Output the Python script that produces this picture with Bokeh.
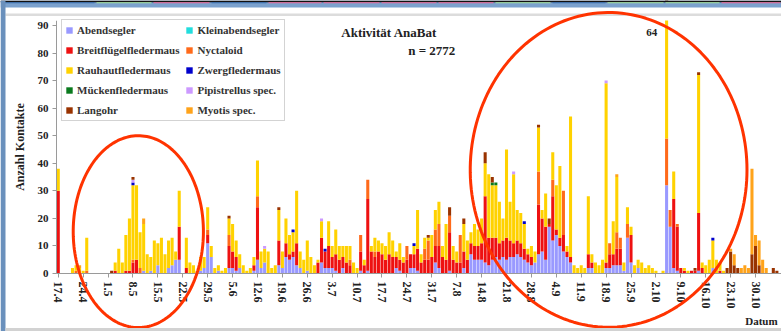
import numpy as np
from bokeh.plotting import figure
from bokeh.models import (ColumnDataSource, Range1d, FixedTicker, Legend, LegendItem,
                          Label, PolyAnnotation, BoxAnnotation)
from bokeh.embed import file_html
from bokeh.resources import INLINE

# ---------------------------------------------------------------- data
# one bar per night, starting 17.4 (day 0) through 5.11 (day 202)
N_DAYS = 203

tick_days = list(range(0, 197, 7))
tick_labels = ["17.4", "24.4", "1.5", "8.5", "15.5", "22.5", "29.5", "5.6", "12.6",
               "19.6", "26.6", "3.7", "10.7", "17.7", "24.7", "31.7", "7.8", "14.8",
               "21.8", "28.8", "4.9", "11.9", "18.9", "25.9", "2.10", "9.10", "16.10",
               "23.10", "30.10"]

abendsegler = [
    0, 0, 0, 0, 0, 0, 0, 0, 0, 0,
    0, 0, 0, 0, 0, 0, 0, 0, 0, 0,
    0, 0, 0, 0, 1, 0, 1, 0, 3, 0,
    0, 2, 3, 5, 5, 0, 0, 0, 0, 0,
    1, 2, 11, 6, 0, 1, 0, 0, 2, 2,
    1, 2, 0, 0, 0, 1, 5, 2, 4, 0,
    0, 0, 3, 2, 6, 5, 6, 3, 2, 0,
    1, 0, 0, 0, 4, 2, 2, 2, 1, 0,
    2, 0, 0, 0, 0, 1, 0, 1, 0, 0,
    0, 0, 0, 0, 0, 2, 1, 0, 0, 2,
    2, 1, 0, 0, 0, 0, 4, 2, 0, 0,
    1, 0, 0, 0, 2, 0, 7, 5, 5, 5,
    4, 3, 5, 6, 5, 6, 5, 6, 6, 7,
    6, 5, 4, 3, 4, 7, 8, 5, 17, 12,
    14, 10, 8, 6, 4, 0, 0, 0, 0, 2,
    2, 0, 0, 0, 2, 2, 3, 3, 3, 1,
    13, 4, 0, 2, 0, 0, 0, 0, 0, 0,
    0, 32, 17, 2, 1, 0, 0, 0, 0, 0,
    1, 0, 0, 0, 2, 0, 0, 0, 0, 0,
    0, 0, 0, 0, 0, 0, 0, 0, 0, 0,
    0, 0, 0,
]

breitfluegelfledermaus = [
    30, 0, 0, 0, 0, 0, 0, 0, 0, 0,
    0, 0, 0, 0, 0, 0, 1, 0, 0, 1,
    1, 4, 5, 0, 0, 0, 0, 0, 0, 0,
    0, 0, 0, 0, 12, 0, 2, 0, 0, 0,
    0, 0, 3, 0, 0, 0, 0, 0, 8, 6,
    5, 0, 0, 0, 0, 2, 19, 0, 0, 0,
    0, 0, 9, 0, 5, 2, 2, 8, 0, 0,
    0, 0, 0, 4, 9, 6, 8, 4, 6, 5,
    4, 4, 3, 0, 0, 7, 3, 26, 8, 6,
    8, 7, 5, 7, 6, 4, 4, 4, 5, 5,
    5, 8, 4, 5, 5, 6, 6, 8, 6, 5,
    14, 5, 4, 4, 6, 5, 4, 5, 5, 6,
    24, 10, 8, 7, 6, 6, 8, 6, 5, 5,
    5, 4, 3, 3, 0, 18, 12, 12, 1, 16,
    2, 3, 6, 2, 2, 0, 0, 0, 0, 5,
    2, 0, 0, 0, 2, 5, 4, 6, 6, 0,
    0, 10, 0, 0, 0, 0, 0, 0, 0, 0,
    0, 0, 0, 25, 16, 2, 1, 0, 1, 1,
    21, 2, 0, 0, 0, 0, 1, 0, 0, 0,
    0, 0, 0, 0, 0, 0, 0, 0, 0, 0,
    0, 0, 0,
]

rauhautfledermaus = [
    8, 0, 0, 0, 2, 2, 2, 1, 12, 0,
    0, 0, 0, 0, 0, 0, 3, 9, 4, 13,
    19, 27, 27, 13, 17, 7, 5, 12, 8, 13,
    7, 10, 10, 3, 13, 0, 11, 4, 3, 1,
    5, 4, 8, 4, 2, 2, 1, 2, 6, 10,
    6, 5, 3, 1, 2, 3, 13, 6, 5, 8,
    2, 3, 11, 6, 9, 7, 7, 19, 6, 5,
    11, 6, 3, 1, 6, 0, 9, 4, 9, 5,
    4, 6, 5, 4, 2, 0, 2, 0, 2, 5,
    4, 4, 5, 8, 6, 2, 6, 2, 0, 0,
    3, 14, 3, 4, 1, 8, 7, 8, 4, 13,
    0, 5, 4, 0, 10, 7, 4, 8, 6, 9,
    12, 23, 19, 19, 15, 8, 32, 14, 25, 11,
    11, 9, 2, 4, 4, 16, 3, 12, 0, 10,
    16, 26, 0, 2, 51, 3, 2, 3, 2, 21,
    3, 4, 3, 5, 65, 0, 12, 20, 0, 3,
    6, 3, 3, 3, 4, 2, 3, 2, 1, 0,
    1, 64, 0, 10, 0, 0, 1, 1, 0, 0,
    50, 2, 3, 5, 10, 5, 3, 1, 0, 0,
    0, 0, 0, 0, 0, 0, 0, 0, 0, 0,
    0, 0, 0,
]

# rarer species: nights with contacts and their counts
nyctaloid_days = [5, 8, 21, 23, 42, 48, 56, 82, 85, 87, 89, 98, 103, 104, 106, 107,
                  110, 113, 135, 139, 142, 155, 157, 158, 160, 171, 172, 174]
nyctaloid_counts = [1, 1, 1, 2, 2, 4, 4, 2, 6, 7, 2, 5, 4, 7, 6, 8,
                    6, 10, 12, 6, 16, 4, 6, 4, 5, 17, 6, 1]

langohr_days = [15, 21, 48, 62, 104, 110, 114, 120, 122, 135, 138, 179, 180, 188,
                189, 190, 191, 195, 196, 197, 201, 202]
langohr_counts = [1, 1, 1, 1, 1, 3, 2, 4, 2, 1, 2, 1, 1, 2,
                  8, 3, 2, 7, 10, 3, 2, 1]

myotis_days = [6, 24, 157, 189, 190, 192, 193, 194, 195, 196, 197, 198, 199]
myotis_counts = [1, 2, 1, 1, 4, 2, 3, 2, 31, 4, 9, 5, 2]

zwerg_days = [21, 66, 75, 100, 131, 184]
zwerg_counts = [1, 1, 1, 1, 1, 1]

muecken_days = [122, 123]
muecken_counts = [1, 1]

pipistrellus_days = [21, 58, 74, 128, 154]
pipistrellus_counts = [1, 1, 1, 1, 1]

kleinabendsegler_days = []
kleinabendsegler_counts = []

total_contacts = 2772
peak_day = 171  # 5.10, the bar that runs off the top of the axis
y_axis_top = 91.8


def nightly(days, counts):
    arr = [0] * N_DAYS
    for d, c in zip(days, counts):
        arr[d] += c
    return arr


species = [
    ("Abendsegler", abendsegler, "#9999FF"),
    ("Kleinabendsegler", nightly(kleinabendsegler_days, kleinabendsegler_counts), "#22DDDD"),
    ("Breitflügelfledermaus", breitfluegelfledermaus, "#EE1111"),
    ("Nyctaloid", nightly(nyctaloid_days, nyctaloid_counts), "#FF6A1A"),
    ("Rauhautfledermaus", rauhautfledermaus, "#FFD200"),
    ("Zwergfledermaus", nightly(zwerg_days, zwerg_counts), "#0000CC"),
    ("Mückenfledermaus", nightly(muecken_days, muecken_counts), "#0A7A1E"),
    ("Pipistrellus spec.", nightly(pipistrellus_days, pipistrellus_counts), "#CC99FF"),
    ("Langohr", nightly(langohr_days, langohr_counts), "#993300"),
    ("Myotis spec.", nightly(myotis_days, myotis_counts), "#FFA31A"),
]

keys = ["s%d" % i for i in range(len(species))]
data = {"day": list(range(N_DAYS))}
for k, (_, vals, _) in zip(keys, species):
    data[k] = vals
source = ColumnDataSource(data)

# ---------------------------------------------------------------- figure
SERIF = "Liberation Serif"

# the frame fills the whole page; the axes are pinned inside it so the
# highlight rings and the slide frame can run over the tick labels
p = figure(width=781, height=331, output_backend="svg", toolbar_location=None,
           x_range=Range1d(-16.24, 203.3), y_range=Range1d(-21.04, 99.06),
           min_border=0, min_border_left=0, min_border_right=0, min_border_top=0,
           min_border_bottom=0, background_fill_color="white",
           border_fill_color="white")
p.outline_line_color = None
p.xgrid.visible = False
p.ygrid.visible = False

renderers = p.vbar_stack(keys, x="day", width=0.86, source=source,
                         color=[c for _, _, c in species], line_color=None)

# axes
p.xaxis.fixed_location = 0
p.xaxis.bounds = (-0.5, 203.3)
p.xaxis.ticker = FixedTicker(ticks=tick_days)
p.xaxis.major_label_overrides = {d: t for d, t in zip(tick_days, tick_labels)}
p.xaxis.major_label_orientation = "vertical"
p.xaxis.minor_tick_line_color = None
p.xaxis.major_tick_out = 4
p.xaxis.major_tick_in = 0
p.xaxis.major_label_standoff = 4

p.yaxis.fixed_location = -0.5
p.yaxis.bounds = (0, y_axis_top)
p.yaxis.ticker = FixedTicker(ticks=list(range(0, 91, 10)))
p.yaxis.minor_tick_line_color = None
p.yaxis.major_tick_out = 4
p.yaxis.major_tick_in = 0
p.yaxis.major_label_standoff = 4
p.yaxis.axis_label = "Anzahl Kontakte"
p.yaxis.axis_label_standoff = 8

for ax in (p.xaxis[0], p.yaxis[0]):
    ax.axis_line_color = "#9a9a9a"
    ax.major_tick_line_color = "#9a9a9a"
    ax.major_label_text_font = SERIF
    ax.major_label_text_font_style = "bold"
    ax.major_label_text_color = "#222222"
    ax.axis_label_text_font = SERIF
    ax.axis_label_text_font_style = "bold"
    ax.axis_label_text_font_size = "12px"
    ax.axis_label_text_color = "#222222"
p.xaxis.major_label_text_font_size = "12px"
p.yaxis.major_label_text_font_size = "11px"

# bars taller than the value axis are cut off at its top
p.add_layout(BoxAnnotation(bottom=y_axis_top, fill_color="white", fill_alpha=1,
                           line_color=None))

# legend, two columns
order = [0, 2, 4, 6, 8, 1, 3, 5, 7, 9]
legend = Legend(items=[LegendItem(label=species[i][0], renderers=[renderers[i]]) for i in order],
                nrows=5, location=(61, 210), padding=3, spacing=6, margin=0,
                glyph_width=8, glyph_height=8, label_height=14, label_standoff=4,
                label_text_font=SERIF, label_text_font_style="bold",
                label_text_font_size="11px", label_text_color="#333333",
                border_line_color="#a8a8a8", border_line_width=1,
                background_fill_color="white", background_fill_alpha=1)
p.add_layout(legend, "center")


# titles and notes
def serif_label(x, y, text, size, align="center"):
    return Label(x=x, y=y, text=text, text_font=SERIF, text_font_style="bold",
                 text_font_size=size, text_color="#222222", text_align=align,
                 text_baseline="middle")


p.add_layout(serif_label(93, 87.4, "Aktivität AnaBat", "13px"))
p.add_layout(serif_label(105, 80.9, "n = %d" % total_contacts, "13px"))
p.add_layout(serif_label(peak_day - 2.6, 87.4, str(rauhautfledermaus[peak_day]), "11px", "right"))
p.add_layout(serif_label(202.2, -17.4, "Datum", "11px", "right"))


# slide frame around the chart
def canvas_box(l, r, t_, b, color):
    return BoxAnnotation(left=l, right=r, top=t_, bottom=b,
                         left_units="canvas", right_units="canvas",
                         top_units="canvas", bottom_units="canvas",
                         fill_color=color, fill_alpha=1, line_color=None)


p.add_layout(canvas_box(5, 781, 13, 15.5, "#DCDCDC"))

# red highlight rings around the spring and autumn peaks
t = np.linspace(0, 2 * np.pi, 180)
for cx, cy, ax_days, ax_count in [(22.5, 15.2, 18.3, 34.8), (154.7, 37.6, 38.9, 57.1)]:
    p.add_layout(PolyAnnotation(xs=list(cx + ax_days * np.cos(t)),
                                ys=list(cy + ax_count * np.sin(t)),
                                xs_units="data", ys_units="data",
                                fill_alpha=0, line_color="#FF3300", line_alpha=1,
                                line_width=3))

p.add_layout(canvas_box(0, 781, 0, 7, "#7BA1CD"))
p.add_layout(canvas_box(0, 781, 0, 1.7, "#111111"))
strip = [(0, 95, "#3A6FB0"), (95, 152, "#A6E39A"), (152, 210, "#F06A9A"), (210, 267, "#3A6FB0"),
         (267, 322, "#F06A9A"), (322, 380, "#F06A9A"), (380, 437, "#F06A9A"), (437, 494, "#F06A9A"),
         (494, 551, "#A6E39A"), (551, 606, "#3A6FB0"), (606, 664, "#A6E39A"), (664, 720, "#A6E39A"),
         (720, 781, "#F06A9A")]
for l, r, c in strip:
    p.add_layout(canvas_box(l + 1, r - 1, 1.7, 2.8, c))
p.add_layout(canvas_box(0, 5, 0, 331, "#6A90BC"))
p.add_layout(canvas_box(5, 781, 327.5, 331, "#D2D2D2"))

open("out.html", "w").write(file_html(p, INLINE))
